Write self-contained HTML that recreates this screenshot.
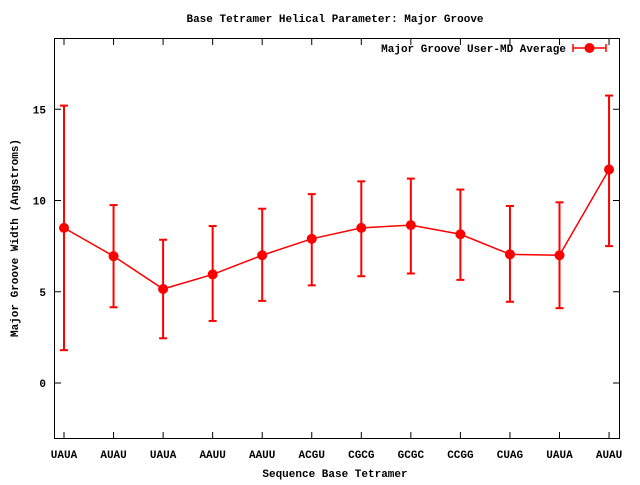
<!DOCTYPE html>
<html><head><meta charset="utf-8"><style>
body{margin:0;background:#fff}
svg text{font-family:"Liberation Mono",monospace;font-size:11px;font-weight:bold;fill:#000}
</style></head><body>
<svg width="640" height="480">
<text x="335" y="22" text-anchor="middle">Base Tetramer Helical Parameter: Major Groove</text>
<rect x="54.5" y="38.5" width="565" height="400" fill="none" stroke="#000"/>
<g id="axes"></g>
<g id="marks"></g>
<text x="335" y="477" text-anchor="middle">Sequence Base Tetramer</text>
<text transform="translate(18,238) rotate(-90)" text-anchor="middle">Major Groove Width (Angstroms)</text>
<g>
<text x="566" y="52" text-anchor="end">Major Groove User-MD Average</text>
<line x1="573" y1="48" x2="606" y2="48" stroke="#f00" stroke-width="1.5"/>
<line x1="573" y1="44" x2="573" y2="52" stroke="#f00" stroke-width="1.5"/>
<line x1="606" y1="44" x2="606" y2="52" stroke="#f00" stroke-width="1.5"/>
<circle cx="589.5" cy="48" r="5" fill="#f00"/>
</g>
</svg>
<script>
const categories=["UAUA","AUAU","UAUA","AAUU","AAUU","ACGU","CGCG","GCGC","CCGG","CUAG","UAUA","AUAU"];
const means=[8.5,6.95,5.15,5.95,7.0,7.9,8.5,8.65,8.15,7.05,7.0,11.7];
const upper=[15.2,9.75,7.85,8.6,9.55,10.35,11.05,11.2,10.6,9.7,9.9,15.75];
const lower=[1.8,4.15,2.45,3.4,4.5,5.35,5.85,6.0,5.65,4.45,4.1,7.5];
const yTicks=[0,5,10,15];
const NS="http://www.w3.org/2000/svg";
const x=i=>64+i*49.55;
const y=v=>383-v*18.25;
function mk(t,a,p){const e=document.createElementNS(NS,t);for(const k in a)e.setAttribute(k,a[k]);p.appendChild(e);return e;}
const ax=document.getElementById('axes'),mg=document.getElementById('marks');
yTicks.forEach(v=>{
 const l=mk('line',{x1:54.5,x2:61,y1:y(v),y2:y(v),stroke:'#000'},ax);
 
 
 const r=mk('line',{x1:613,x2:619.5,y1:y(v),y2:y(v),stroke:'#000'},ax);
 
 
 const t=mk('text',{x:46,y:y(v)+4,'text-anchor':'end'},ax);t.textContent=v;
 
 
});
categories.forEach((c,i)=>{
 const l=mk('line',{x1:x(i),x2:x(i),y1:438.5,y2:432,stroke:'#000'},ax);
 
 
 const u=mk('line',{x1:x(i),x2:x(i),y1:38.5,y2:45,stroke:'#000'},ax);
 
 
 const t=mk('text',{x:x(i),y:458,'text-anchor':'middle'},ax);t.textContent=c;
 
 
});
const pl=mk('polyline',{points:means.map((v,i)=>x(i)+','+y(v)).join(' '),fill:'none',stroke:'#f00','stroke-width':1.5},mg);


means.forEach((v,i)=>{
 const g=mk('g',{stroke:'#f00','stroke-width':2},mg);
 
 
 mk('line',{x1:x(i),x2:x(i),y1:y(upper[i]),y2:y(lower[i])},g);
 mk('line',{x1:x(i)-4,x2:x(i)+4,y1:y(upper[i]),y2:y(upper[i])},g);
 mk('line',{x1:x(i)-4,x2:x(i)+4,y1:y(lower[i]),y2:y(lower[i])},g);
 const c=mk('circle',{cx:x(i),cy:y(v),r:5,fill:'#f00'},mg);
 
 
});
</script>
</body></html>
